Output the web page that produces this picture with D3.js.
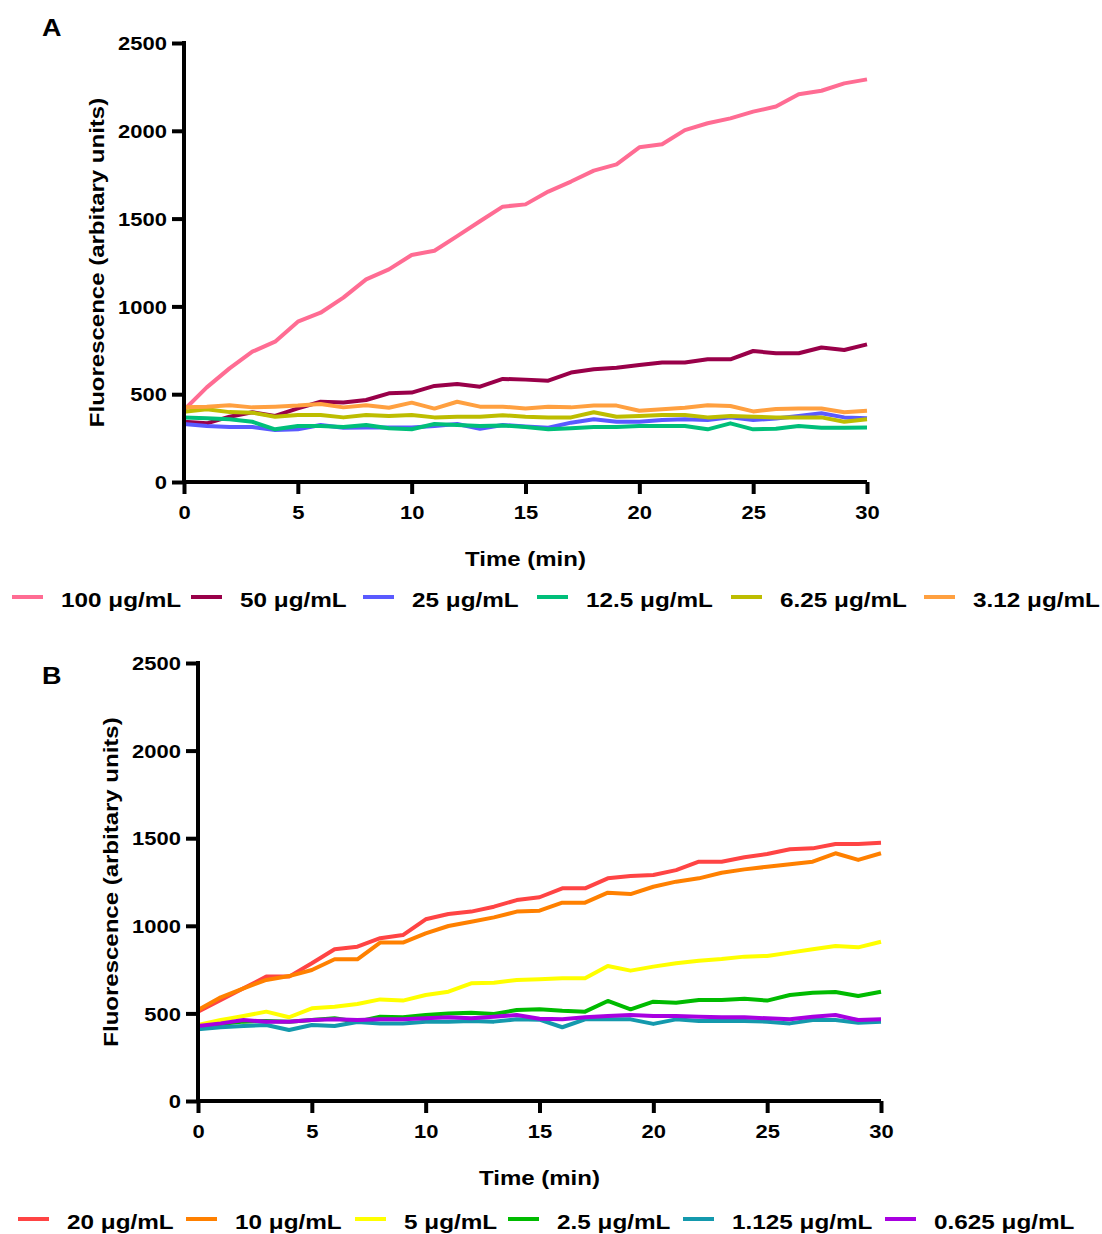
<!DOCTYPE html>
<html>
<head>
<meta charset="utf-8">
<script src="https://cdn.jsdelivr.net/npm/d3@7"></script>
<style>
  html, body { margin: 0; padding: 0; background: #fff; }
  svg text { font-family: "Liberation Sans", Arial, sans-serif; font-weight: bold; fill: #000; }
</style>
</head>
<body>
<svg id="chart" width="1102" height="1234"></svg>
<script>
// Time points (minutes)
const timeMin = d3.range(0, 31);

// Panel A series
const seriesA_labels = ["100 μg/mL", "50 μg/mL", "25 μg/mL", "12.5 μg/mL", "6.25 μg/mL", "3.12 μg/mL"];
const seriesA_colors = ["#ff6c93", "#990049", "#5a5aff", "#00bf7a", "#bdbd00", "#ffa040"];
const a100 = [410, 539, 647, 742, 799, 913, 964, 1050, 1154, 1211, 1293, 1317, 1400, 1485, 1568, 1581, 1654, 1711, 1773, 1809, 1906, 1923, 2004, 2043, 2071, 2109, 2138, 2208, 2228, 2270, 2293];
const a50 = [343, 334, 372, 397, 376, 419, 457, 453, 467, 505, 509, 547, 558, 543, 587, 583, 577, 623, 642, 651, 666, 681, 681, 699, 699, 746, 733, 733, 766, 752, 784];
const a25 = [330, 319, 313, 313, 296, 300, 325, 309, 311, 311, 311, 319, 330, 303, 325, 316, 309, 338, 357, 343, 343, 353, 357, 353, 368, 353, 361, 376, 391, 368, 363];
const a12_5 = [368, 363, 357, 343, 300, 319, 319, 313, 325, 306, 300, 330, 325, 319, 322, 313, 300, 306, 313, 313, 319, 319, 319, 300, 334, 300, 303, 319, 309, 309, 311];
const a6_25 = [400, 414, 398, 395, 372, 382, 382, 368, 382, 376, 382, 368, 372, 372, 380, 372, 368, 368, 397, 372, 376, 382, 382, 368, 376, 372, 368, 368, 368, 343, 357];
const a3_12 = [425, 429, 437, 425, 429, 435, 444, 425, 437, 423, 452, 418, 457, 429, 429, 418, 429, 425, 435, 435, 406, 414, 423, 437, 433, 402, 416, 419, 419, 397, 406];

// Panel B series
const seriesB_labels = ["20 μg/mL", "10 μg/mL", "5 μg/mL", "2.5 μg/mL", "1.125 μg/mL", "0.625 μg/mL"];
const seriesB_colors = ["#ff4444", "#ff8000", "#ffff00", "#00bb00", "#1499ad", "#a800e0"];
const b20 = [510, 576, 643, 710, 710, 786, 866, 881, 929, 947, 1037, 1067, 1081, 1109, 1147, 1163, 1214, 1214, 1271, 1284, 1290, 1318, 1366, 1366, 1391, 1410, 1437, 1442, 1467, 1467, 1474];
const b10 = [519, 592, 643, 691, 713, 748, 809, 809, 904, 904, 957, 999, 1023, 1048, 1081, 1086, 1132, 1132, 1189, 1181, 1223, 1252, 1271, 1303, 1322, 1337, 1351, 1366, 1414, 1376, 1414];
const b5 = [434, 462, 485, 510, 478, 529, 538, 554, 580, 573, 605, 624, 672, 675, 691, 695, 700, 700, 771, 744, 767, 786, 801, 810, 824, 828, 847, 866, 885, 877, 909];
const b2_5 = [421, 440, 453, 457, 453, 462, 472, 453, 481, 478, 491, 500, 504, 497, 519, 523, 515, 510, 571, 523, 567, 561, 576, 576, 584, 573, 605, 618, 622, 599, 624];
const b1_125 = [409, 421, 428, 434, 405, 434, 428, 451, 443, 443, 453, 453, 457, 453, 466, 464, 421, 466, 466, 466, 440, 466, 457, 457, 457, 453, 443, 462, 462, 447, 453];
const b0_625 = [428, 443, 462, 453, 453, 462, 466, 462, 466, 466, 472, 478, 472, 481, 491, 470, 466, 478, 485, 491, 485, 485, 481, 478, 478, 472, 466, 481, 491, 462, 466];

// Axis ticks
const xTicks = [0, 5, 10, 15, 20, 25, 30];
const yTicks = [0, 500, 1000, 1500, 2000, 2500];

const svg = d3.select("#chart");
const SQ = 0.84;            // vertical squeeze of horizontal lettering
const TICK = 12;            // tick length

function drawPanel(cfg) {
  const x = d3.scaleLinear().domain([0, 30]).range([cfg.left, cfg.right]);
  const y = d3.scaleLinear().domain([0, 2500]).range([cfg.bottom, cfg.top]);
  const g = svg.append("g");

  // series lines
  const line = d3.line().x((d, i) => x(timeMin[i])).y(d => y(d));
  cfg.series.forEach((vals, k) => {
    g.append("path")
      .datum(vals)
      .attr("fill", "none")
      .attr("stroke", cfg.colors[k])
      .attr("stroke-width", 4)
      .attr("stroke-linejoin", "round")
      .attr("d", line);
  });

  // axes
  const xAxis = d3.axisBottom(x).tickValues(xTicks).tickSize(TICK).tickFormat(d3.format("d"));
  const yAxis = d3.axisLeft(y).tickValues(yTicks).tickSize(TICK).tickFormat(d3.format("d"));
  const gx = g.append("g").attr("transform", `translate(0,${cfg.bottom})`).call(xAxis);
  const gy = g.append("g").attr("transform", `translate(${cfg.left},0)`).call(yAxis);
  [gx, gy].forEach(ax => {
    ax.select(".domain").attr("stroke", "#000").attr("stroke-width", 4);
    ax.selectAll(".tick line").attr("stroke", "#000").attr("stroke-width", 4);
    ax.selectAll(".tick text")
      .attr("font-size", 22)
      .attr("font-family", "Liberation Sans, Arial, sans-serif")
      .attr("font-weight", "bold")
      .attr("dy", null);
  });
  gx.select(".domain").attr("d", `M${cfg.left - 2},0H${cfg.right}`);
  gy.select(".domain").attr("d", `M0,${cfg.top - 2}V${cfg.bottom + 2}`);
  gx.selectAll(".tick text")
    .attr("y", 0)
    .attr("transform", `translate(0,37) scale(1,${SQ})`);
  gy.selectAll(".tick text")
    .attr("x", 0)
    .attr("y", 0)
    .attr("transform", `translate(-17,6.6) scale(1,${SQ})`);

  // axis titles
  g.append("text")
    .attr("transform", `translate(${(cfg.left + cfg.right) / 2},${cfg.bottom + 84}) scale(1,${SQ})`)
    .attr("text-anchor", "middle")
    .attr("font-size", 24)
    .text("Time (min)");
  g.append("text")
    .attr("transform", `translate(${cfg.left - 80},${(cfg.top + cfg.bottom) / 2}) rotate(-90) scale(1,${SQ})`)
    .attr("text-anchor", "middle")
    .attr("font-size", 24)
    .text("Fluorescence (arbitary units)");

  // panel letter
  g.append("text")
    .attr("transform", `translate(42,${cfg.letterY}) scale(1,0.9)`)
    .attr("font-size", 27)
    .text(cfg.letter);

  // legend
  const lg = g.append("g");
  cfg.labels.forEach((lab, k) => {
    const sx = cfg.legendX[k];
    lg.append("line")
      .attr("x1", sx).attr("x2", sx + 31)
      .attr("y1", cfg.legendY - 10).attr("y2", cfg.legendY - 10)
      .attr("stroke", cfg.colors[k]).attr("stroke-width", 4);
    lg.append("text")
      .attr("transform", `translate(${sx + 49},${cfg.legendY}) scale(1,${SQ - 0.02})`)
      .attr("font-size", 24.3)
      .text(lab);
  });
}

drawPanel({
  left: 184, right: 867, top: 43, bottom: 482,
  series: [a100, a50, a25, a12_5, a6_25, a3_12],
  colors: seriesA_colors, labels: seriesA_labels,
  letter: "A", letterY: 36,
  legendY: 607, legendX: [12, 191, 363, 537, 731, 924]
});

drawPanel({
  left: 198, right: 881, top: 663, bottom: 1101,
  series: [b20, b10, b5, b2_5, b1_125, b0_625],
  colors: seriesB_colors, labels: seriesB_labels,
  letter: "B", letterY: 684,
  legendY: 1229, legendX: [18, 186, 355, 508, 683, 885]
});
</script>
</body>
</html>
